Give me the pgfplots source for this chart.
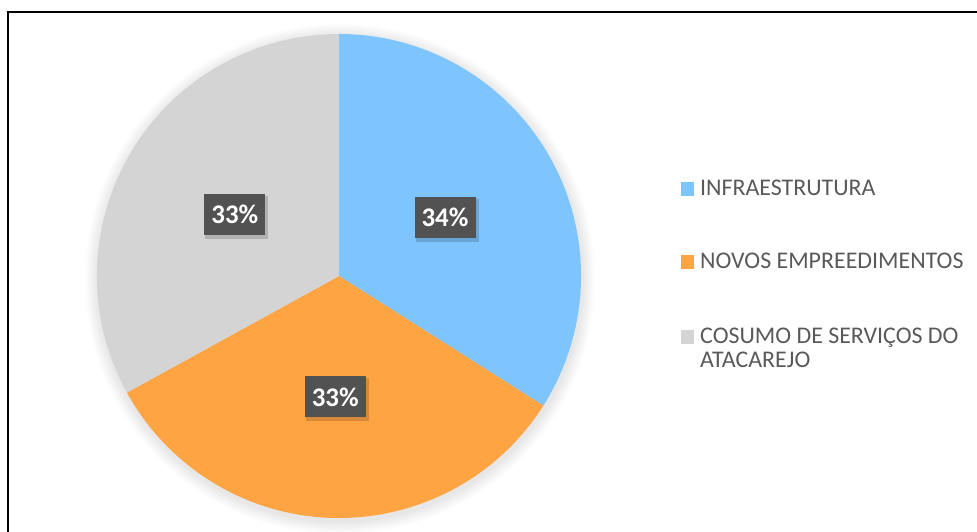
\documentclass[border=0pt]{standalone}
\usepackage{pgfplots}
\usepackage{pgfplotstable}
\pgfplotsset{compat=1.18}
\usepackage{fontspec}
\setmainfont{Carlito}
\definecolor{pieblue}{HTML}{7EC5FD}
\definecolor{pieorange}{HTML}{FFA443}
\definecolor{piegray}{HTML}{D4D4D4}
\definecolor{lblgray}{HTML}{525252}
\definecolor{legtext}{HTML}{595959}

\pgfplotstableread[col sep=comma]{
name,value
INFRAESTRUTURA,34
NOVOS EMPREEDIMENTOS,33
COSUMO DE SERVICOS DO ATACAREJO,33
}\piedata

\begin{document}
\begin{tikzpicture}
\pgfplotstablegetelem{0}{value}\of\piedata \edef\va{\pgfplotsretval}
\pgfplotstablegetelem{1}{value}\of\piedata \edef\vb{\pgfplotsretval}
\pgfplotstablegetelem{2}{value}\of\piedata \edef\vc{\pgfplotsretval}
\pgfmathsetmacro\total{\va+\vb+\vc}
\pgfmathsetmacro\aA{90}
\pgfmathsetmacro\aB{\aA-360*\va/\total}
\pgfmathsetmacro\aC{\aB-360*\vb/\total}
\pgfmathsetmacro\aD{\aC-360*\vc/\total}
\pgfmathsetmacro\mA{(\aA+\aB)/2}
\pgfmathsetmacro\mB{(\aB+\aC)/2}
\pgfmathsetmacro\mC{(\aC+\aD)/2}
\tikzset{
  lbl/.style={fill=lblgray, text=white, font=\bfseries\fontsize{27}{27}\selectfont,
    minimum width=61bp, minimum height=41bp, inner sep=0pt},
  lblsh/.style={fill=black, opacity=0.16, minimum width=63bp, minimum height=43bp, inner sep=0pt},
  leg/.style={anchor=base west, text=legtext, font=\fontsize{24}{24}\selectfont, inner sep=0pt},
}
\begin{axis}[hide axis, scale only axis, width=977bp, height=532bp,
  xmin=0, xmax=977, ymin=0, ymax=532, clip=false]
\coordinate (LL) at (axis cs:0,0);
\coordinate (UR) at (axis cs:977,532);
% frame
\draw[line width=1.7bp, black] (axis cs:8.3,0) -- (axis cs:8.3,519.7) -- (axis cs:977,519.7);
% soft shadow of the pie
\pgfplotsinvokeforeach{1,...,8}{
  \fill[black, opacity=0.012] (axis cs:340,253) circle[radius={242bp+#1*1.6bp}];
}
% slices
\fill[pieblue] (axis cs:339,256) -- +(\aA:242bp) arc[start angle=\aA, end angle=\aB, radius=242bp] -- cycle;
\fill[pieorange] (axis cs:339,256) -- +(\aB:242bp) arc[start angle=\aB, end angle=\aC, radius=242bp] -- cycle;
\fill[piegray] (axis cs:339,256) -- +(\aC:242bp) arc[start angle=\aC, end angle=\aD, radius=242bp] -- cycle;
% data labels
\path (axis cs:341,253) ++(\mA:121bp) node[lblsh] {};
\path (axis cs:341,253) ++(\mB:121bp) node[lblsh] {};
\path (axis cs:341,253) ++(\mC:121bp) node[lblsh] {};
\path (axis cs:339,256) ++(\mA:121bp) node[lbl] {\va\%};
\path (axis cs:339,256) ++(\mB:121bp) node[lbl] {\vb\%};
\path (axis cs:339,256) ++(\mC:121bp) node[lbl] {\vc\%};
% legend
\fill[pieblue] (axis cs:681,336) rectangle (axis cs:694,350);
\fill[pieorange] (axis cs:681,263) rectangle (axis cs:694,277);
\fill[piegray] (axis cs:681,188) rectangle (axis cs:694,202);
\node[leg] at (axis cs:700,336) {INFRAESTRUTURA};
\node[leg] at (axis cs:700,263) {NOVOS EMPREEDIMENTOS};
\node[leg] at (axis cs:700,188) {COSUMO DE SERVIÇOS DO};
\node[leg] at (axis cs:700,164) {ATACAREJO};
\end{axis}
\pgfresetboundingbox
\useasboundingbox (LL) rectangle (UR);
\end{tikzpicture}
\end{document}
